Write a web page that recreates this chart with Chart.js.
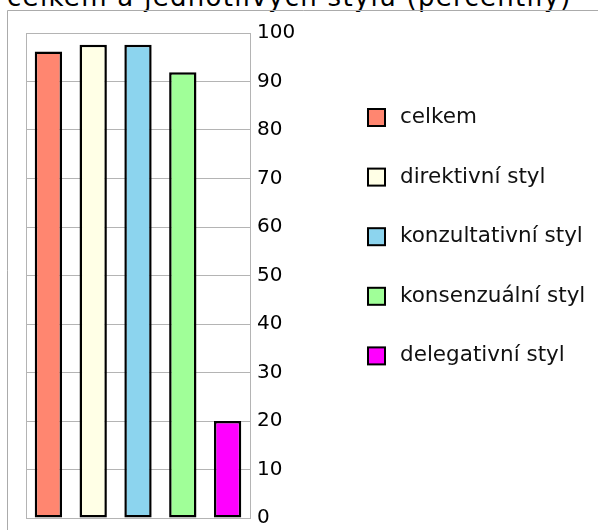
<!DOCTYPE html>
<html>
<head>
<meta charset="utf-8">
<script src="https://cdn.jsdelivr.net/npm/chart.js@4/dist/chart.umd.min.js"></script>
<style>
  html, body { margin: 0; padding: 0; background: #fff; overflow: hidden; }
  #wrap { position: relative; width: 598px; height: 530px; overflow: hidden; }
  #title { position: absolute; left: 7px; top: -16px; white-space: nowrap;
           font-family: "DejaVu Sans", Verdana, sans-serif; font-size: 26px; line-height: 26px;
           letter-spacing: 1.3px; color: #000; }
  canvas { position: absolute; left: 0; top: 0; }
</style>
</head>
<body>
<div id="wrap">
  <div id="title">celkem a jednotlivých stylů (percentily)</div>
  <canvas id="c" width="598" height="530"></canvas>
</div>
<script>
const seriesNames = ['celkem', 'direktivní styl', 'konzultativní styl', 'konsenzuální styl', 'delegativní styl'];
const seriesValues = [96.2, 97.6, 97.6, 91.9, 20.0];
const seriesColors = ['#ff8670', '#ffffe6', '#8cd4ee', '#a0ff98', '#ff00ff'];
const categories = [''];
const yTicks = { min: 0, max: 100, step: 10 };

const datasets = seriesNames.map((name, i) => ({
  label: name,
  data: [seriesValues[i]],
  backgroundColor: seriesColors[i],
  borderColor: '#000',
  borderWidth: 2.5,
  borderSkipped: false,
  categoryPercentage: 1.0,
  barPercentage: 0.61
}));

const frameAndBorder = {
  id: 'frameAndBorder',
  beforeDraw(chart) {
    const ctx = chart.ctx;
    ctx.save();
    ctx.strokeStyle = '#ababab';
    ctx.lineWidth = 1;
    ctx.beginPath();
    ctx.moveTo(7.5, chart.height + 5);
    ctx.lineTo(7.5, 10.5);
    ctx.lineTo(chart.width + 5, 10.5);
    ctx.stroke();
    ctx.restore();
  },
  beforeDatasetsDraw(chart) {
    const { ctx, chartArea: a } = chart;
    ctx.save();
    ctx.strokeStyle = '#b4b4b4';
    ctx.lineWidth = 1;
    ctx.strokeRect(Math.round(a.left) + 0.5, Math.round(a.top) + 0.5,
                   Math.round(a.right - a.left), Math.round(a.bottom - a.top));
    ctx.restore();
  }
};

const sideLegend = {
  id: 'sideLegend',
  afterDraw(chart) {
    const ctx = chart.ctx;
    ctx.save();
    ctx.font = '21.5px "DejaVu Sans", Verdana, sans-serif';
    ctx.textBaseline = 'middle';
    ctx.textAlign = 'left';
    chart.data.datasets.forEach((ds, i) => {
      const x = 368, y = 109 + i * 59.6, s = 17;
      ctx.fillStyle = ds.backgroundColor;
      ctx.fillRect(x, y, s, s);
      ctx.strokeStyle = '#000';
      ctx.lineWidth = 2;
      ctx.strokeRect(x, y, s, s);
      ctx.fillStyle = '#111';
      ctx.fillText(ds.label, 400, y + s / 2);
    });
    ctx.restore();
  }
};

new Chart(document.getElementById('c'), {
  type: 'bar',
  data: { labels: categories, datasets },
  options: {
    responsive: false,
    animation: false,
    layout: { padding: { left: 26, top: 33, bottom: 12, right: 0 } },
    plugins: { legend: { display: false }, title: { display: false }, tooltip: { enabled: false } },
    scales: {
      x: { display: false },
      y: {
        position: 'right',
        min: yTicks.min, max: yTicks.max,
        ticks: { stepSize: yTicks.step, color: '#000', padding: 7,
                 font: { family: '"DejaVu Sans", Verdana, sans-serif', size: 20, lineHeight: 0.5 } },
        grid: { color: '#b4b4b4', drawTicks: false, lineWidth: 1 },
        border: { display: true, color: '#b4b4b4' },
        afterFit(scale) { scale.width = 348; }
      }
    }
  },
  plugins: [frameAndBorder, sideLegend]
});
</script>
</body>
</html>
